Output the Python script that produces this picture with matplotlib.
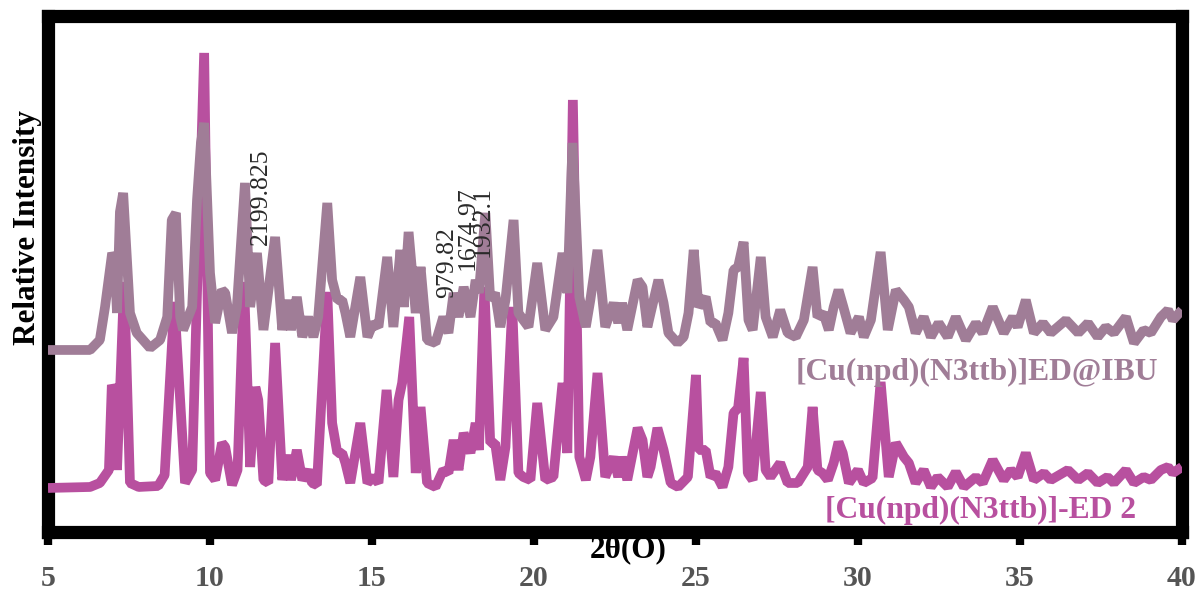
import matplotlib
matplotlib.use("Agg")
import matplotlib.pyplot as plt

plt.rcParams['font.family'] = ['Liberation Serif', 'DejaVu Serif']

# --- PXRD pattern of [Cu(npd)(N3ttb)]-ED 2 (lower trace) ---
tt_ed = [5.0, 6.3, 6.6, 6.88, 6.97, 7.03, 7.13, 7.35, 7.53, 7.8, 8.4, 8.6, 8.9, 9.23, 9.45,
         9.6, 9.82, 10.0, 10.16, 10.37, 10.47, 10.68, 10.85, 11.05, 11.24, 11.4, 11.49, 11.65,
         11.8, 12.01, 12.23, 12.38, 12.5, 12.68, 12.85, 13.03, 13.15, 13.3, 13.62, 13.77, 13.93,
         14.08, 14.18, 14.33, 14.64, 14.86, 15.04, 15.2, 15.45, 15.66, 15.82, 15.93, 16.15, 16.35,
         16.5, 16.7, 16.96, 17.2, 17.36, 17.52, 17.67, 17.83, 18.04, 18.2, 18.3, 18.47, 18.65,
         18.8, 18.96, 19.12, 19.33, 19.52, 19.67, 19.89, 20.1, 20.35, 20.6, 20.88, 21.03, 21.2,
         21.4, 21.6, 21.74, 21.96, 22.2, 22.46, 22.6, 22.72, 22.88, 23.2, 23.35, 23.5, 23.6,
         23.81, 24.0, 24.22, 24.45, 24.75, 25.0, 25.08, 25.3, 25.45, 25.6, 25.82, 26.0, 26.16,
         26.3, 26.47, 26.6, 26.75, 27.0, 27.15, 27.3, 27.6, 27.83, 28.14, 28.45, 28.6, 28.75,
         28.9, 29.07, 29.25, 29.4, 29.53, 29.72, 30.0, 30.18, 30.45, 30.7, 30.95, 31.17, 31.42,
         31.57, 31.78, 32.03, 32.25, 32.46, 32.77, 33.02, 33.27, 33.64, 33.85, 34.16, 34.5,
         34.72, 34.93, 35.18, 35.43, 35.74, 35.95, 36.48, 36.8, 37.1, 37.4, 37.7, 37.9, 38.27,
         38.52, 38.82, 39.04, 39.35, 39.57, 39.72, 40.0]
int_ed = [44, 45, 49, 62, 147, 142, 62, 250, 49, 45, 46, 57, 230, 49, 62,
          240, 479, 59, 52, 89, 85, 47, 62, 250, 65, 145, 132, 52,
          49, 189, 52, 77, 52, 82, 52, 62, 49, 47, 240, 109, 79,
          79, 69, 49, 109, 49, 55, 49, 142, 55, 132, 149, 215, 59,
          125, 49, 45, 62, 59, 92, 62, 99, 79, 109, 82, 245, 89,
          89, 52, 85, 225, 59, 55, 52, 129, 52, 55, 149, 79, 432,
          75, 52, 75, 159, 55, 75, 55, 75, 52, 104, 92, 55, 65,
          104, 82, 49, 45, 55, 157, 82, 82, 55, 59, 45, 65, 119,
          124, 174, 59, 52, 140, 62, 55, 69, 49, 49, 65, 125, 62,
          59, 52, 69, 90, 79, 49, 62, 49, 54, 150, 55, 89, 75,
          69, 49, 62, 45, 55, 45, 60, 45, 55, 49, 72, 52,
          62, 55, 79, 52, 59, 52, 62, 52, 59, 49, 55, 49, 62,
          49, 55, 52, 62, 65, 59, 65]

# --- PXRD pattern of [Cu(npd)(N3ttb)]ED@IBU (upper trace) ---
tt_ibu = [5.0, 6.3, 6.6, 6.76, 6.98, 7.05, 7.13, 7.22, 7.32, 7.53, 7.74, 8.15, 8.46, 8.68,
          8.82, 8.95, 9.08, 9.17, 9.45, 9.6, 9.72, 9.82, 10.0, 10.16, 10.37, 10.47, 10.68,
          10.83, 11.08, 11.24, 11.45, 11.65, 12.01, 12.23, 12.38, 12.5, 12.68, 12.85, 13.03,
          13.19, 13.34, 13.62, 13.77, 13.93, 14.08, 14.18, 14.33, 14.64, 14.86, 15.04, 15.2,
          15.47, 15.66, 15.88, 15.98, 16.13, 16.35, 16.5, 16.7, 16.96, 17.2, 17.36, 17.52,
          17.67, 17.83, 18.04, 18.2, 18.3, 18.5, 18.65, 18.8, 18.96, 19.12, 19.37, 19.52,
          19.67, 19.83, 20.1, 20.35, 20.6, 20.88, 21.03, 21.19, 21.4, 21.6, 21.74, 21.96,
          22.2, 22.46, 22.6, 22.72, 22.88, 23.2, 23.35, 23.5, 23.6, 23.84, 24.0, 24.15, 24.43,
          24.62, 24.77, 24.93, 25.08, 25.3, 25.45, 25.6, 25.82, 26.0, 26.16, 26.3, 26.47,
          26.62, 26.75, 27.0, 27.15, 27.37, 27.6, 27.83, 28.08, 28.33, 28.6, 28.75, 28.93,
          29.1, 29.25, 29.4, 29.55, 29.77, 30.03, 30.18, 30.4, 30.7, 30.92, 31.17, 31.42,
          31.57, 31.78, 32.03, 32.25, 32.49, 32.77, 33.02, 33.33, 33.64, 33.85, 34.16, 34.5,
          34.78, 34.93, 35.18, 35.43, 35.71, 35.95, 36.42, 36.8, 37.1, 37.4, 37.65, 37.9,
          38.27, 38.52, 38.82, 39.04, 39.35, 39.57, 39.72, 40.0]
int_ibu = [182, 182, 192, 225, 279, 274, 219, 320, 339, 219, 199, 184, 192, 215,
           312, 319, 215, 202, 225, 332, 389, 409, 259, 209, 242, 239, 199,
           225, 349, 225, 279, 202, 295, 202, 232, 202, 235, 195, 215,
           195, 215, 329, 252, 232, 232, 219, 195, 255, 195, 209, 205,
           275, 205, 282, 225, 300, 219, 265, 192, 189, 215, 199, 239,
           215, 245, 215, 252, 239, 319, 232, 239, 205, 232, 312, 219,
           212, 205, 269, 202, 215, 279, 239, 389, 235, 205, 232, 282,
           205, 229, 209, 229, 202, 252, 245, 205, 219, 252, 229, 199, 189,
           195, 219, 282, 225, 235, 209, 209, 192, 219, 262, 265, 290,
           212, 202, 275, 215, 195, 222, 199, 195, 212, 265, 215, 219,
           202, 225, 242, 225, 199, 215, 195, 212, 280, 202, 242, 232,
           225, 199, 215, 195, 209, 195, 215, 192, 209, 199, 225, 199,
           215, 205, 232, 199, 209, 199, 212, 199, 209, 195, 205, 199,
           215, 189, 202, 199, 215, 222, 212, 222]

# peak labels (text, 2theta, intensity at text start)
peak_labels = [("2199.825", 11.58, 287), ("979.82", 17.33, 234),
               ("1674.97", 17.94, 262), ("1932.1", 18.41, 275)]

col_ed = "#b8509f"
col_ibu = "#a07d97"

fig = plt.figure(figsize=(12.03, 5.93), dpi=100)
ax = fig.add_axes([0.0399, 0.1029, 0.9426, 0.8702])

ax.plot(tt_ed, int_ed, color=col_ed, lw=7, zorder=3,
        solid_joinstyle='bevel', solid_capstyle='butt')
ax.plot(tt_ibu, int_ibu, color=col_ibu, lw=7, zorder=3.1,
        solid_joinstyle='bevel', solid_capstyle='butt')

for txt, x, y in peak_labels:
    ax.text(x, y, txt, rotation=90, ha='center', va='bottom', fontsize=18.5,
            color='#2a2a2a', zorder=4)

ax.text(39.26, 152, "[Cu(npd)(N3ttb)]ED@IBU", ha='right', va='baseline',
        fontsize=22.8, fontweight='bold', color=col_ibu)
ax.text(38.58, 14, "[Cu(npd)(N3ttb)]-ED 2", ha='right', va='baseline',
        fontsize=22.8, fontweight='bold', color=col_ed)

ax.set_xlim(5, 40)
ax.set_ylim(0, 516)
ax.set_xticks([5, 10, 15, 20, 25, 30, 35, 40])
ax.set_yticks([])
for s in ax.spines.values():
    s.set_linewidth(9.5)
    s.set_color('black')
ax.tick_params(axis='x', direction='out', length=9, width=6, color='black',
               pad=15, labelsize=21.5, labelcolor='#555555')
for lab in ax.get_xticklabels():
    lab.set_fontweight('bold')

fig.text(628 / 1203, 1 - 550 / 593, "2θ(O)", ha='center', va='center',
         fontsize=22.5, fontweight='bold', color='black')
fig.text(28 / 1203, 1 - 228 / 593, "Relative Intensity", ha='center', va='center',
         rotation=90, fontsize=22.5, fontweight='bold', color='black')

fig.savefig("out.png", dpi=100)
